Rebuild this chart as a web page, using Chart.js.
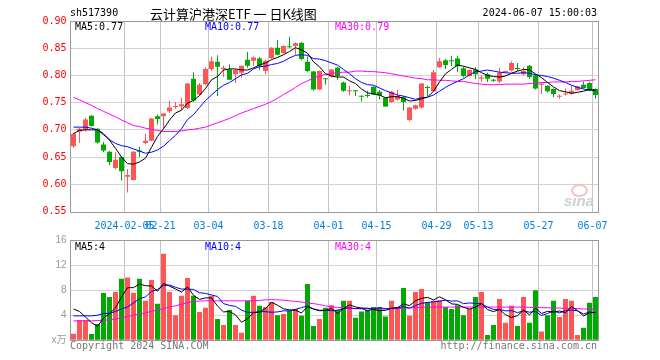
<!DOCTYPE html>
<html><head><meta charset="utf-8">
<script src="https://cdn.jsdelivr.net/npm/chart.js@4.4.1/dist/chart.umd.min.js"></script>
<style>
html,body{margin:0;padding:0;background:#fff;}
#wrap{position:relative;width:660px;height:360px;overflow:hidden;background:#fff;}
canvas{position:absolute;left:0;}
.t{position:absolute;font-family:"DejaVu Sans Mono",monospace;font-size:10px;line-height:10px;white-space:pre;}
</style></head><body>
<div id="wrap">
<canvas id="vol" width="660" height="135" style="top:225px"></canvas>
<canvas id="px" width="660" height="236" style="top:0"></canvas>
<div class="t" style="left:70px;top:8px;color:#000">sh517390</div>
<div class="t" style="left:150px;top:7px;font-family:'Noto Sans CJK SC';font-size:13px;line-height:13px;color:#000">云计算沪港深ETF 一 日K线图</div>
<div class="t" style="right:63px;top:8px;color:#000">2024-06-07 15:00:03</div>
<div class="t" style="left:75px;top:21.5px;color:#000">MA5:0.77</div>
<div class="t" style="left:205px;top:21.5px;color:#0000ff">MA10:0.77</div>
<div class="t" style="left:335px;top:21.5px;color:#ff00ff">MA30:0.79</div>
<div class="t" style="left:75px;top:241.5px;color:#000">MA5:4</div>
<div class="t" style="left:205px;top:241.5px;color:#0000ff">MA10:4</div>
<div class="t" style="left:335px;top:241.5px;color:#ff00ff">MA30:4</div>
<div class="t" style="left:70px;top:340.5px;color:#777">Copyright 2024 SINA.COM</div>
<div class="t" style="right:63px;top:340.5px;color:#777">http://finance.sina.com.cn</div>
<div style="position:absolute;left:571px;top:184px;width:13px;height:9px;border:2px solid #f4c0c0;border-radius:50%;"></div>
<div style="position:absolute;left:564px;top:193px;font:italic bold 15px 'Liberation Sans';line-height:15px;color:#cfcfcf;">sina</div>
</div>
<script>
const dates = ['2024-01-23','2024-01-24','2024-01-25','2024-01-26','2024-01-29','2024-01-30','2024-01-31',
'2024-02-01','2024-02-02','2024-02-05','2024-02-06','2024-02-07','2024-02-08','2024-02-19','2024-02-20','2024-02-21','2024-02-22','2024-02-23','2024-02-26','2024-02-27','2024-02-28','2024-02-29',
'2024-03-01','2024-03-04','2024-03-05','2024-03-06','2024-03-07','2024-03-08','2024-03-11','2024-03-12','2024-03-13','2024-03-14','2024-03-15','2024-03-18','2024-03-19','2024-03-20','2024-03-21','2024-03-22','2024-03-25','2024-03-26','2024-03-27','2024-03-28','2024-03-29',
'2024-04-01','2024-04-02','2024-04-03','2024-04-08','2024-04-09','2024-04-10','2024-04-11','2024-04-12','2024-04-15','2024-04-16','2024-04-17','2024-04-18','2024-04-19','2024-04-22','2024-04-23','2024-04-24','2024-04-25','2024-04-26','2024-04-29','2024-04-30',
'2024-05-06','2024-05-07','2024-05-08','2024-05-09','2024-05-10','2024-05-13','2024-05-14','2024-05-15','2024-05-16','2024-05-17','2024-05-20','2024-05-21','2024-05-22','2024-05-23','2024-05-24','2024-05-27','2024-05-28','2024-05-29','2024-05-30','2024-05-31',
'2024-06-03','2024-06-04','2024-06-05','2024-06-06','2024-06-07'];

const tickDates = ['2024-02-05','2024-02-21','2024-03-04','2024-03-18','2024-04-01','2024-04-15','2024-04-29','2024-05-13','2024-05-27','2024-06-07'];
const tickText  = ['2024-02-05','02-21','03-04','03-18','04-01','04-15','04-29','05-13','05-27','06-07'];

const opens = [.670,.697,.700,.726,.702,.673,.660,.630,.650,.614,.608,.662,.676,.680,.725,.725,.734,.742,.743,.740,.794,.765,
.784,.812,.825,.812,.811,.802,.805,.829,.827,.831,.808,.832,.851,.841,.853,.854,.860,.825,.807,.774,.795,.798,
.814,.787,.771,.772,.762,.763,.779,.770,.759,.751,.756,.760,.718,.739,.741,.778,.771,.815,.828,.827,.831,.813,
.799,.811,.794,.802,.791,.789,.806,.809,.813,.802,.818,.800,.783,.781,.775,.761,.765,.767,.773,.783,.786,.775];
const closes = [.693,.702,.719,.707,.677,.662,.641,.645,.624,.617,.660,.660,.680,.721,.720,.730,.741,.744,.747,.785,.754,.783,
.812,.826,.816,.814,.792,.810,.818,.818,.833,.818,.827,.851,.838,.854,.852,.859,.830,.808,.774,.808,.793,.811,
.799,.772,.772,.771,.761,.762,.765,.763,.743,.770,.762,.751,.741,.745,.785,.777,.806,.826,.819,.826,.817,.799,
.810,.802,.796,.794,.790,.805,.808,.823,.812,.808,.797,.776,.785,.771,.766,.762,.766,.772,.780,.777,.773,.764];
const highs = [.695,.704,.722,.727,.703,.678,.661,.659,.651,.628,.661,.669,.693,.722,.728,.731,.754,.751,.759,.786,.806,.786,
.815,.835,.837,.818,.820,.812,.818,.843,.835,.834,.829,.852,.865,.855,.871,.861,.861,.835,.808,.809,.795,.812,
.816,.789,.781,.772,.763,.772,.780,.773,.760,.772,.774,.762,.742,.746,.786,.781,.810,.832,.830,.836,.836,.816,
.811,.815,.800,.805,.794,.814,.809,.826,.823,.815,.819,.802,.786,.782,.776,.765,.776,.781,.781,.789,.789,.776];
const lows = [.667,.676,.697,.706,.675,.659,.635,.627,.607,.585,.607,.650,.673,.679,.710,.702,.731,.739,.737,.738,.752,.763,
.782,.808,.762,.797,.791,.786,.795,.814,.818,.810,.802,.830,.837,.840,.850,.838,.828,.806,.772,.773,.783,.796,
.792,.770,.763,.762,.752,.759,.764,.756,.742,.750,.754,.736,.716,.737,.739,.762,.770,.814,.812,.817,.806,.796,
.798,.793,.788,.788,.788,.786,.806,.807,.808,.800,.794,.774,.766,.768,.760,.757,.763,.765,.772,.776,.771,.757];

const ma5 = [.693,.699,.700,.700,.700,.693,.681,.666,.650,.638,.637,.641,.648,.668,.688,.702,.718,.731,.736,.749,.754,.763,
.776,.792,.798,.810,.812,.812,.810,.810,.814,.819,.823,.829,.833,.838,.844,.851,.847,.841,.825,.816,.803,.799,
.797,.797,.790,.785,.775,.768,.766,.764,.759,.761,.761,.758,.753,.754,.757,.760,.771,.788,.803,.811,.819,.817,
.814,.811,.805,.800,.798,.797,.799,.804,.808,.811,.810,.803,.796,.787,.779,.772,.770,.767,.769,.771,.774,.773];
const ma10 = [.705,.705,.705,.703,.700,.691,.682,.675,.671,.669,.665,.661,.657,.659,.663,.670,.680,.690,.702,.719,.728,.741,
.754,.764,.774,.782,.787,.794,.801,.804,.812,.816,.817,.820,.822,.826,.832,.837,.838,.837,.831,.830,.827,.823,
.819,.811,.803,.794,.787,.783,.782,.777,.772,.768,.764,.762,.759,.756,.759,.760,.764,.771,.778,.784,.789,.794,
.801,.807,.808,.810,.808,.806,.805,.804,.804,.805,.804,.801,.800,.798,.795,.791,.787,.782,.778,.775,.773,.772];
const ma30 = [.760,.755,.750,.745,.739,.734,.729,.724,.718,.713,.708,.706,.703,.701,.699,.697,.697,.697,.698,.700,.701,.703,
.705,.709,.713,.717,.721,.726,.731,.735,.739,.743,.747,.752,.758,.765,.771,.778,.785,.790,.795,.799,.802,.804,
.805,.806,.806,.808,.808,.807,.807,.806,.805,.803,.801,.799,.797,.795,.794,.792,.792,.791,.791,.790,.789,.789,
.787,.785,.784,.783,.783,.783,.784,.784,.784,.784,.785,.786,.787,.787,.788,.788,.788,.789,.789,.790,.791,.792];

const volumes = [1.06,3.24,3.24,1.0,2.6,7.55,6.9,7.7,9.8,10.0,7.6,9.8,6.3,9.6,5.85,13.8,7.7,4.0,7.1,9.95,7.1,4.5,
5.2,7.1,3.4,2.45,4.85,2.45,1.2,6.3,7.1,5.5,5.3,6.1,4.0,4.2,4.7,5.0,3.9,9.0,2.3,3.4,5.2,5.6,
4.85,6.3,6.3,3.6,4.6,4.85,5.3,5.3,3.8,6.3,5.3,8.35,3.9,7.7,8.2,6.1,6.3,6.4,5.3,5.0,5.6,4.0,
5.0,6.9,7.7,0.85,2.45,6.6,2.8,5.5,2.3,6.9,2.8,8.0,1.4,4.0,6.3,3.7,6.6,6.3,0.85,2.0,6.0,6.9];
const vma5 = [5.0,4.6,3.7,2.8,2.23,3.53,4.26,5.15,6.91,8.39,8.40,8.98,8.70,8.66,7.83,9.07,8.65,8.19,7.69,8.51,7.17,6.53,
6.77,6.77,5.46,4.53,4.60,4.05,2.87,3.45,4.38,4.51,5.08,6.06,5.60,5.02,4.86,4.80,4.36,5.36,4.98,4.72,4.76,5.10,
4.27,5.07,5.65,5.33,5.13,5.13,4.93,4.73,4.77,5.11,5.20,5.81,5.53,6.31,6.69,6.85,6.44,6.94,6.46,5.82,5.72,5.26,
4.98,5.30,5.84,4.89,4.58,4.90,4.08,3.64,3.93,4.82,4.06,5.10,4.28,4.62,4.50,4.68,4.40,5.38,4.75,3.89,4.39,4.45];
const vma10 = [3.9,3.9,3.9,3.9,4.0,4.3,4.3,4.6,5.0,5.31,5.96,6.62,6.93,7.79,8.11,8.74,8.82,8.45,8.18,8.17,8.12,7.59,
7.48,7.23,6.99,5.85,5.57,5.41,4.82,4.46,4.46,4.56,4.57,4.47,4.53,4.70,4.69,4.94,5.21,5.48,5.00,4.79,4.78,4.73,
4.82,5.03,5.19,5.05,5.12,4.70,5.00,5.19,5.05,5.12,5.17,5.37,5.13,5.54,5.90,6.03,6.13,6.24,6.39,6.26,6.29,5.85,
5.96,5.88,5.83,5.31,4.92,4.94,4.69,4.74,4.41,4.70,4.48,4.59,3.96,4.28,4.66,4.37,4.75,4.83,4.69,4.20,4.52,4.41];
const vma30 = [3.1,3.1,3.1,3.1,3.15,3.2,3.25,3.4,3.6,3.8,4.0,4.2,4.4,4.6,4.85,5.05,5.3,5.5,5.75,6.0,6.2,6.25,
6.3,6.3,6.3,6.3,6.3,6.3,6.3,6.3,6.3,6.35,6.45,6.5,6.45,6.4,6.3,6.2,6.1,5.95,5.85,5.7,5.5,5.35,
5.25,5.2,5.1,5.05,5.0,5.0,5.0,5.0,5.0,5.0,5.05,5.1,5.15,5.2,5.25,5.3,5.3,5.3,5.3,5.3,5.3,5.3,
5.3,5.3,5.3,5.3,5.3,5.3,5.3,5.3,5.3,5.3,5.25,5.25,5.2,5.2,5.15,5.15,5.1,5.1,5.05,5.0,5.0,4.95];

const UP = '#ff5555', DOWN = '#00aa00';
const colors = opens.map((o, i) => closes[i] >= o ? UP : DOWN);
const MONO = '"DejaVu Sans Mono", monospace';
const CLEAR = 'rgba(255,255,255,0)';

const frame = {
  id: 'frame',
  afterDraw(chart) {
    const ctx = chart.ctx, a = chart.chartArea;
    const L = Math.floor(a.left) + 0.5, R = Math.round(a.right) - 0.5;
    const T = Math.round(a.top) + 0.5, B = Math.round(a.bottom) + 0.5;
    ctx.save();
    ctx.strokeStyle = '#999'; ctx.lineWidth = 1;
    ctx.strokeRect(L, T, R - L, B - T);
    ctx.restore();
  }
};

function xScale(showLabels, h) {
  return {
    type: 'category', offset: true,
    grid: { display: true, offset: true, drawTicks: false, drawOnChartArea: true, lineWidth: 1,
      color: c => (c.type === 'tick' && tickDates.indexOf(dates[c.index]) >= 0) ? '#c4c4c4' : CLEAR },
    border: { display: false },
    ticks: { display: showLabels, autoSkip: false, maxRotation: 0, minRotation: 0, padding: 9, labelOffset: -3,
      color: '#0080e0', font: { family: MONO, size: 10 },
      callback: (v, i) => { const k = tickDates.indexOf(dates[i]); return k >= 0 ? tickText[k] : ''; } },
    afterFit: s => { s.height = h; }
  };
}
function yGrid(lo, hi) {
  return { display: true, drawTicks: false, drawOnChartArea: true, lineWidth: 1,
    color: c => (c.type === 'tick' && c.tick && c.tick.value > lo && c.tick.value < hi) ? '#d2d2d2' : CLEAR };
}
function line(data, color) {
  return { type: 'line', data, borderColor: color, borderWidth: 1, pointRadius: 0, fill: false, tension: 0, order: 0 };
}
const common = { responsive: false, animation: false, devicePixelRatio: 1,
  plugins: { legend: { display: false }, tooltip: { enabled: false } } };

new Chart(document.getElementById('px'), {
  type: 'bar',
  data: { labels: dates, datasets: [
    { data: lows.map((l, i) => [l, highs[i]]), backgroundColor: colors, barThickness: 1, grouped: false, order: 2, borderWidth: 0, inflateAmount: 0 },
    { data: opens.map((o, i) => [o, closes[i]]), backgroundColor: colors, barThickness: 5, grouped: false, order: 1, borderWidth: 0, inflateAmount: 0, minBarLength: 1 },
    line(ma5, '#000000'), line(ma10, '#0000ff'), line(ma30, '#ff00ff')
  ]},
  options: Object.assign({}, common, {
    layout: { padding: { left: 0, top: 21, right: 61.5, bottom: 0 } },
    scales: {
      x: xScale(true, 24.5),
      y: { min: 0.55, max: 0.90,
        grid: yGrid(0.56, 0.89), border: { display: false },
        ticks: { stepSize: 0.05, padding: 4, color: '#ff0000', font: { family: MONO, size: 10 }, callback: v => v.toFixed(2) },
        afterFit: s => { s.width = 70.5; } }
    }
  }),
  plugins: [frame]
});

new Chart(document.getElementById('vol'), {
  type: 'bar',
  data: { labels: dates, datasets: [
    { data: volumes, backgroundColor: colors, barThickness: 5, grouped: false, order: 1, borderWidth: 0, inflateAmount: 0 },
    line(vma5, '#000000'), line(vma10, '#0000ff'), line(vma30, '#ff00ff')
  ]},
  options: Object.assign({}, common, {
    layout: { padding: { left: 0, top: 15, right: 61.5, bottom: 0 } },
    scales: {
      x: xScale(false, 19.7),
      y: { min: 0, max: 16,
        grid: yGrid(0.5, 15.5), border: { display: false },
        ticks: { stepSize: 4, padding: 4, color: '#999', font: { family: '"Liberation Sans", "Noto Sans CJK SC", sans-serif', size: 10 },
          callback: v => v === 0 ? 'x万' : String(v) },
        afterFit: s => { s.width = 70.5; } }
    }
  }),
  plugins: [frame]
});
</script>
</body></html>
